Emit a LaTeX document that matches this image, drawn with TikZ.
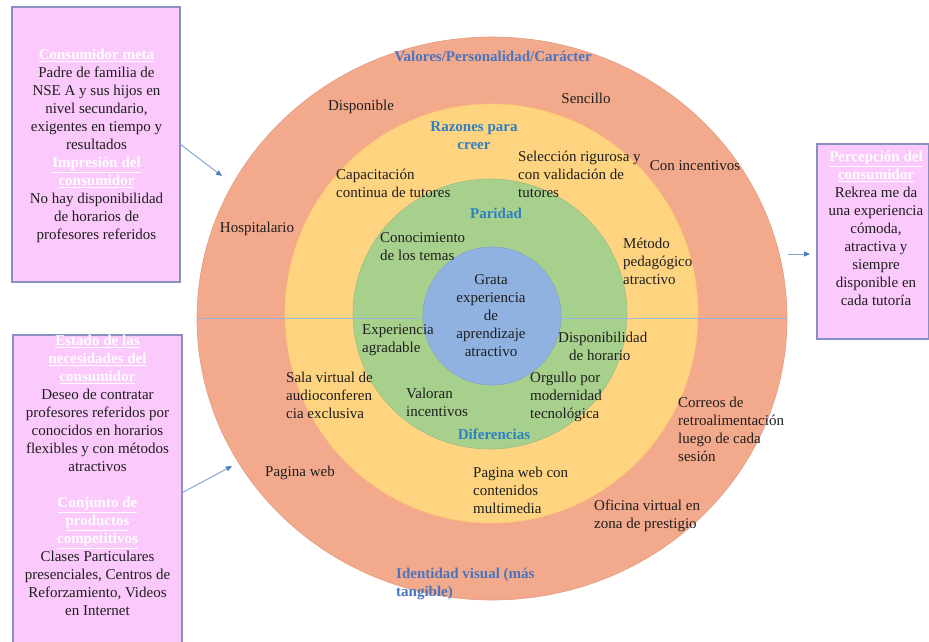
\documentclass[tikz,border=0pt]{standalone}
\usepackage{fontspec}
\setmainfont{Liberation Serif}
\usetikzlibrary{arrows.meta}
\definecolor{ringO}{HTML}{F3AA8C}
\definecolor{ringY}{HTML}{FFD480}
\definecolor{ringG}{HTML}{A8D08D}
\definecolor{ringB}{HTML}{8FB2E0}
\definecolor{boxfill}{HTML}{FBC9FB}
\definecolor{boxedge}{HTML}{8A8FC2}
\definecolor{lblout}{HTML}{4A74BE}
\definecolor{lblin}{HTML}{2E80C2}
\definecolor{txt}{HTML}{1E1E1E}
\definecolor{divline}{HTML}{9AB6D8}
\definecolor{arrline}{HTML}{7CA2D0}
\definecolor{arrtip}{HTML}{4A7EC0}
\newcommand\boxhead[1]{\textcolor{white}{\bfseries\underline{#1}}}
\begin{document}
\begin{tikzpicture}[x=1pt,y=-1pt,
  every node/.style={inner sep=0pt, font=\fontsize{15}{18}\selectfont, text=txt},
  lbl/.style={align=left, anchor=west},
  ctr/.style={align=center},
  ringlabel/.style={font=\fontsize{15}{18}\selectfont\bfseries, text=lblin},
  outlabel/.style={font=\fontsize{15}{18}\selectfont\bfseries, text=lblout},
  infobox/.style={draw=boxedge, line width=1.2pt, fill=boxfill, rectangle},
  arr/.style={draw=arrline, line width=0.9pt, -{Triangle[length=6pt,width=5pt,color=arrtip]}},
  ring/.style={line width=0.6pt}
]
\useasboundingbox (0,0) rectangle (929,641);
\clip (0,0) rectangle (929,641);
\fill[white] (0,0) rectangle (929,641);

% rings
\filldraw[ring, fill=ringO, draw=ringO!92!black] (492,318.5) ellipse [x radius=295pt, y radius=281.5pt];
\filldraw[ring, fill=ringY, draw=ringY!85!orange] (491.5,313.5) ellipse [x radius=206.5pt, y radius=209.5pt];
\filldraw[ring, fill=ringG, draw=ringG!92!black] (490,314) ellipse [x radius=137pt, y radius=135pt];
\coordinate (dl) at (197,318);
\coordinate (dr) at (787,318);
\draw[divline, line width=1pt] (dl) -- (dr);
\filldraw[ring, fill=ringB, draw=ringB!92!black] (492,316) ellipse [x radius=69pt, y radius=69pt];

% ring labels
\node[outlabel] (valores) at (493,56) {Valores/Personalidad/Carácter};
\node[ringlabel, ctr] (razones) at (474,136) {Razones para\\creer};
\node[ringlabel] (paridad) at (496,213) {Paridad};
\node[ringlabel] (diferencias) at (494,434) {Diferencias};
\node[outlabel, lbl] (identidad) at (396,583.5) {Identidad visual (más\\tangible)};

% outer ring texts
\node (disp) at (361,107) {Disponible};
\node (sencillo) at (586,98) {Sencillo};
\node (conincent) at (695,166) {Con incentivos};
\node (hosp) at (257,229) {Hospitalario};
\node[lbl] (correos) at (678,429.5) {Correos de\\retroalimentación\\luego de cada\\sesión};
\node (pagweb) at (300,473) {Pagina web};
\node[lbl] (oficina) at (594,516) {Oficina virtual en\\zona de prestigio};

% yellow ring texts
\node[lbl] (seleccion) at (518,174.5) {Selección rigurosa y\\con validación de\\tutores};
\node[lbl] (capacit) at (336,183.5) {Capacitación\\continua de tutores};
\node[lbl] (metodo) at (623,261) {Método\\pedagógico\\atractivo};
\node[lbl] (sala) at (286,395) {Sala virtual de\\audioconferen\\cia exclusiva};
\node[lbl] (pagcon) at (473,490.5) {Pagina web con\\contenidos\\multimedia};

% green ring texts
\node[lbl] (conoc) at (380,247) {Conocimiento\\de los temas};
\node[lbl] (experiencia) at (362,340.5) {Experiencia\\agradable};
\node[lbl] (disphor) at (558,346) {Disponibilidad\\\hspace*{11pt}de horario};
\node[lbl] (valoran) at (406,402.5) {Valoran\\incentivos};
\node[lbl] (orgullo) at (530,396.5) {Orgullo por\\modernidad\\tecnológica};

% core
\node[ctr] (grata) at (491,315.5) {Grata\\experiencia\\de\\aprendizaje\\atractivo};

% boxes
\node[infobox, minimum width=168pt, minimum height=275pt] (tl) at (96,144.5) {};
\node[ctr] (tltext) at (96.5,146) {\boxhead{Consumidor meta}\\Padre de familia de\\NSE A y sus hijos en\\nivel secundario,\\exigentes en tiempo y\\resultados\\\boxhead{Impresión del}\\\boxhead{consumidor}\\No hay disponibilidad\\de horarios de\\profesores referidos};

\node[infobox, minimum width=169pt, minimum height=315pt] (bl) at (97.5,492.5) {};
\node[ctr] (bltext) at (97.5,475.5) {\boxhead{Estado de las}\\\boxhead{necesidades del}\\\boxhead{consumidor}\\Deseo de contratar\\profesores referidos por\\conocidos en horarios\\flexibles y con métodos\\atractivos\\[18pt]\boxhead{Conjunto de}\\\boxhead{productos}\\\boxhead{competitivos}\\Clases Particulares\\presenciales, Centros de\\Reforzamiento, Videos\\en Internet};

\node[infobox, minimum width=111.5pt, minimum height=195pt] (rb) at (872.75,241.5) {};
\node[ctr] (rbtext) at (876,228) {\boxhead{Percepción del}\\\boxhead{consumidor}\\Rekrea me da\\una experiencia\\cómoda,\\atractiva y\\siempre\\disponible en\\cada tutoría};

% arrows
\coordinate (a1e) at (222,176);
\coordinate (a2e) at (232,466);
\coordinate (a3s) at (788,254);
\coordinate (a3e) at (810,254);
\draw[arr] (tl.east) -- (a1e);
\draw[arr] (bl.east) -- (a2e);
\draw[arr] (a3s) -- (a3e);
\end{tikzpicture}
\end{document}
